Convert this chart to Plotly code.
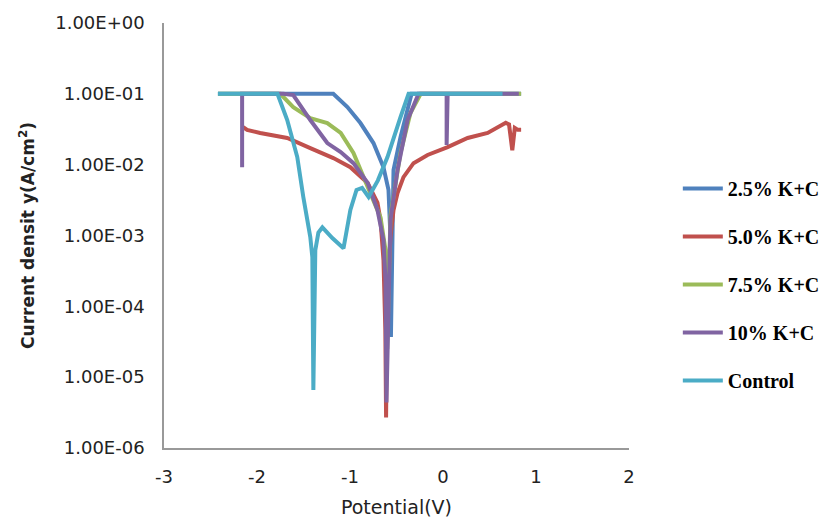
import plotly.graph_objects as go

# Potential (V) and current density (A/cm^2)
pot_25 = [-2.42, -1.18, -1.028, -0.888, -0.748, -0.64, -0.586, -0.565, -0.56, -0.532, -0.457, -0.338, 0.84]
cd_25 = [0.1, 0.1, 0.065, 0.0387, 0.0202, 0.0092, 0.0044, 9.5e-4, 3.7e-5, 0.0084, 0.0245, 0.1, 0.1]

pot_50 = [-2.149, -2.106, -1.966, -1.675, -1.427, -1.179, -0.996, -0.81, -0.705, -0.672, -0.64, -0.62,
          -0.612, -0.60, -0.565, -0.532, -0.489, -0.425, -0.317, -0.166, 0.05, 0.265, 0.48, 0.588,
          0.675, 0.71, 0.745, 0.772, 0.805, 0.84]
cd_50 = [0.034, 0.031, 0.028, 0.0238, 0.0171, 0.0124, 0.0092, 0.0055, 0.0029, 0.00165, 4.5e-4, 4.6e-5,
         2.7e-6, 1.2e-4, 9.5e-4, 0.00229, 0.00397, 0.00668, 0.0105, 0.0137, 0.0177, 0.0238, 0.028, 0.034,
         0.039, 0.037, 0.016, 0.033, 0.031, 0.031]

pot_75 = [-2.42, -1.75, -1.61, -1.427, -1.244, -1.10, -0.963, -0.856, -0.748, -0.672, -0.618, -0.60,
          -0.565, -0.457, -0.35, -0.24, 0.84]
cd_75 = [0.1, 0.1, 0.065, 0.0455, 0.0387, 0.028, 0.0146, 0.0067, 0.0029, 0.0018, 6.2e-4, 2.5e-5,
         0.0019, 0.0146, 0.0536, 0.1, 0.1]

pot_10 = [-2.16, -2.16, -1.718, -1.61, -1.427, -1.244, -1.10, -0.963, -0.81, -0.705, -0.64, -0.618,
          -0.608, -0.586, -0.565, -0.489, -0.381, -0.263, 0.039, 0.039, 0.05, 0.815]
cd_10 = [0.0092, 0.1, 0.1, 0.096, 0.0427, 0.0202, 0.0151, 0.0105, 0.0055, 0.0023, 8.6e-4, 2.3e-4,
         4.4e-6, 2.3e-4, 0.00165, 0.0084, 0.0427, 0.1, 0.1, 0.0189, 0.1, 0.1]

pot_ctrl = [-2.42, -1.78, -1.675, -1.567, -1.502, -1.427, -1.405, -1.394, -1.373, -1.34, -1.297,
            -1.19, -1.07, -0.996, -0.93, -0.87, -0.80, -0.70, -0.597, -0.53, -0.457, -0.37, 0.64]
cd_ctrl = [0.1, 0.1, 0.0427, 0.0128, 0.0035, 9.5e-4, 4.95e-4, 6.6e-6, 6.2e-4, 1.1e-3, 1.3e-3,
           9.2e-4, 6.6e-4, 2.3e-3, 4.4e-3, 4.7e-3, 3.5e-3, 6.0e-3, 0.0128, 0.025, 0.047, 0.1, 0.1]

names = ["2.5% K+C", "5.0% K+C", "7.5% K+C", "10% K+C", "Control"]
colors = ["#4F81BD", "#C0504D", "#9BBB59", "#8064A2", "#4BACC6"]
series = [(pot_25, cd_25), (pot_50, cd_50), (pot_75, cd_75), (pot_10, cd_10), (pot_ctrl, cd_ctrl)]

x_ticks = [-3, -2, -1, 0, 1, 2]
x_ticktext = ["-3", "-2", "-1", "0", "1", "2"]
y_ticks = [1e-6, 1e-5, 1e-4, 1e-3, 1e-2, 1e-1, 1]
y_ticktext = ["1.00E-06", "1.00E-05", "1.00E-04", "1.00E-03", "1.00E-02", "1.00E-01", "1.00E+00"]

fig = go.Figure()
for (x, y), n, c in zip(series, names, colors):
    fig.add_trace(go.Scatter(x=x, y=y, mode="lines", name=n, legendgroup=n,
                             line=dict(color=c, width=4)))

fig.update_layout(
    width=836, height=524,
    margin=dict(l=164, r=207, t=23, b=76, autoexpand=False),
    paper_bgcolor="white", plot_bgcolor="white",
    font=dict(family="DejaVu Sans, sans-serif", size=18, color="#222"),
    legend=dict(x=1.105, y=0.385, xanchor="left", yanchor="middle",
                font=dict(family="Liberation Serif, serif", size=20, color="black", weight="bold"),
                tracegroupgap=19, itemwidth=40, bgcolor="rgba(0,0,0,0)"),
    xaxis=dict(range=[-3, 2], tickvals=x_ticks, ticktext=x_ticktext, showgrid=False, zeroline=False,
               showline=True, linecolor="#999", linewidth=1.5, ticks="", ticklabelstandoff=12,
               tickfont=dict(size=18), automargin=False,
               title=dict(text="Potential(V)", font=dict(size=19), standoff=14)),
    yaxis=dict(type="log", range=[-6, 0], tickvals=y_ticks, ticktext=y_ticktext,
               showgrid=False, zeroline=False, showline=True, linecolor="#999", linewidth=1.5,
               ticks="", ticklabelstandoff=14, tickfont=dict(size=18), automargin=False,
               title=dict(text="<b>Current densit y(A/cm<sup>2</sup>)</b>", font=dict(size=17),
                          standoff=16)),
)

fig.write_html("out.html")
